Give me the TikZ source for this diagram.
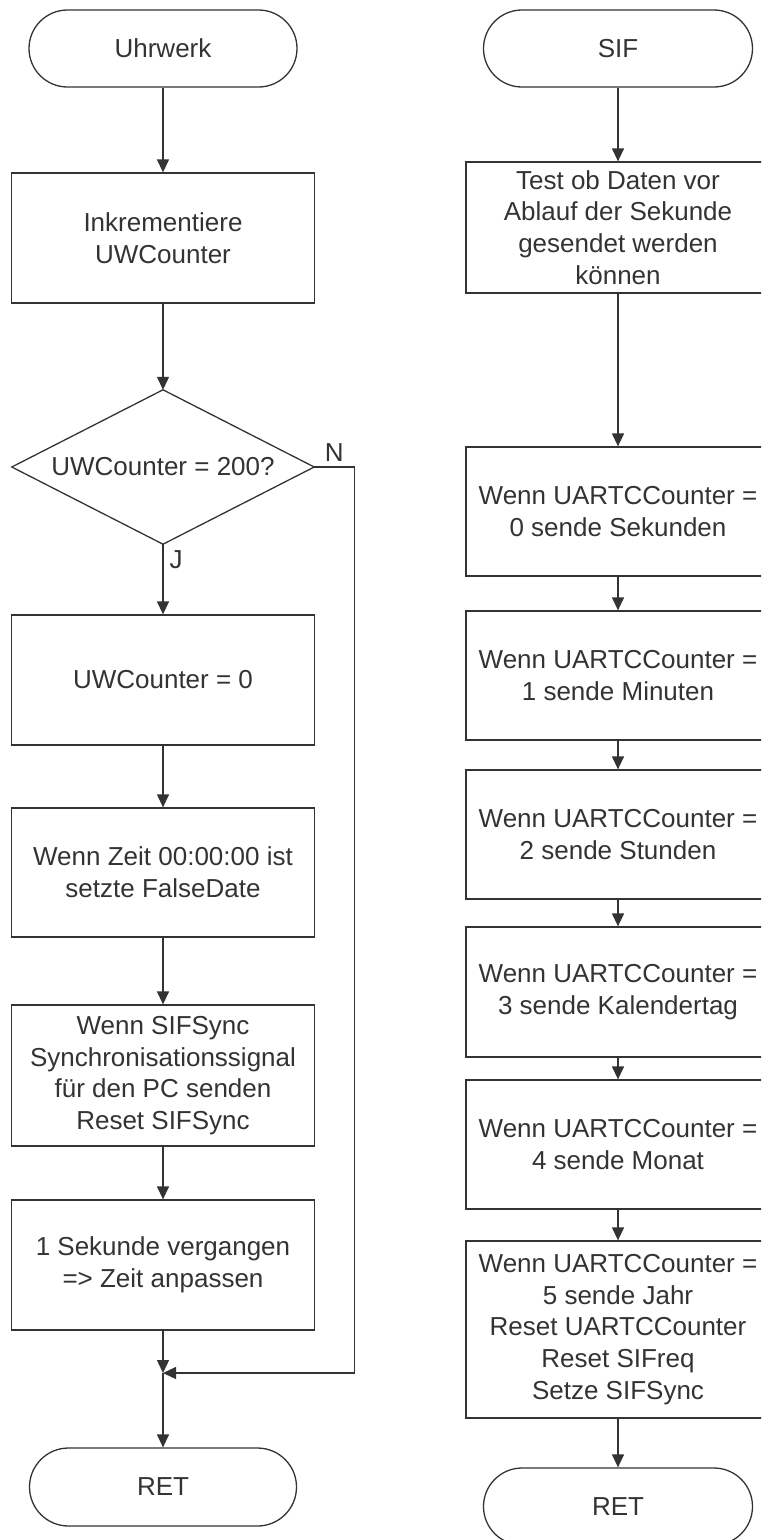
\documentclass[tikz,border=0pt]{standalone}
\usepackage{fontspec}
\setmainfont{Liberation Sans}
\usetikzlibrary{arrows.meta}
\begin{document}
\begin{tikzpicture}[x=1pt,y=-1pt]
            \tikzstyle{every node}=[align=center,text=black!80,font=\fontsize{26}{31.7}\selectfont]
            \tikzstyle{box}=[draw=black!80,line width=1.3pt,minimum width=303pt,minimum height=130pt,inner sep=0pt]
            \tikzstyle{term}=[box,minimum width=268pt,minimum height=77pt,rounded corners=38.5pt]
            \tikzstyle{flow}=[draw=black!80,line width=1.3pt,-{Triangle[width=12pt,length=13pt]}]
            \tikzstyle{line}=[draw=black!80,line width=1.3pt]
            \clip (0,0) rectangle (761,1540);
            \node[term] (start) at (163,48.5) {Uhrwerk};
            \node[box] (inc) at (163,238) {Inkrementiere\\UWCounter};
            \node[minimum width=302pt,minimum height=154pt,inner sep=0pt] (dia) at (163,467) {UWCounter = 200?};
            \draw[line,line join=miter] (dia.north) -- (dia.east) -- (dia.south) -- (dia.west) -- cycle;
            \node[box] (zero) at (163,680) {UWCounter = 0};
            \node[box,minimum height=129pt] (zeit) at (163,872.5) {Wenn Zeit 00:00:00 ist\\setzte FalseDate};
            \node[box,minimum height=141pt] (sync) at (163,1075.5) {Wenn SIFSync\\Synchronisationssignal\\für den PC senden\\Reset SIFSync};
            \node[box] (sek) at (163,1265) {1 Sekunde vergangen\\=> Zeit anpassen};
            \coordinate (merge) at (163,1373);
            \node[term,minimum width=267pt,minimum height=78pt,rounded corners=39pt] (ret) at (163,1487) {RET};
            \draw[flow] (start) -- (inc);
            \draw[flow] (inc) -- (dia.north);
            \draw[flow] (dia.south) -- node[pos=0.22,right,inner sep=6pt]{J} (zero);
            \draw[flow] (zero) -- (zeit);
            \draw[flow] (zeit) -- (sync);
            \draw[flow] (sync) -- (sek);
            \draw[flow] (sek) -- (merge);
            \draw[flow] (dia.east) -- node[above,inner sep=5pt]{N} ++(40,0) |- (merge);
            \draw[flow] (merge) -- (ret);
            \node[term,minimum width=269pt] (sif) at (618,48.5) {SIF};
            \node[box,minimum width=304pt,minimum height=131pt] (test) at (618,227.5) {Test ob Daten vor\\Ablauf der Sekunde\\gesendet werden\\können};
            \node[box,minimum width=304pt,minimum height=129pt] (u0) at (618,511.5) {Wenn UARTCCounter =\\0 sende Sekunden};
            \node[box,minimum width=304pt,minimum height=129pt] (u1) at (618,675.5) {Wenn UARTCCounter =\\1 sende Minuten};
            \node[box,minimum width=304pt,minimum height=129pt] (u2) at (618,834.5) {Wenn UARTCCounter =\\2 sende Stunden};
            \node[box,minimum width=304pt] (u3) at (618,992) {Wenn UARTCCounter =\\3 sende Kalendertag};
            \node[box,minimum width=304pt,minimum height=129pt] (u4) at (618,1144.5) {Wenn UARTCCounter =\\4 sende Monat};
            \node[box,minimum width=304pt,minimum height=177pt] (u5) at (618,1329.5) {Wenn UARTCCounter =\\5 sende Jahr\\Reset UARTCCounter\\Reset SIFreq\\Setze SIFSync};
            \node[term,minimum width=269pt] (ret2) at (618,1506.5) {RET};
            \draw[flow] (sif) -- (test);
            \draw[flow] (test) -- (u0);
            \draw[flow] (u0) -- (u1);
            \draw[flow] (u1) -- (u2);
            \draw[flow] (u2) -- (u3);
            \draw[flow] (u3) -- (u4);
            \draw[flow] (u4) -- (u5);
            \draw[flow] (u5) -- (ret2);
            \end{tikzpicture}
\end{document}
